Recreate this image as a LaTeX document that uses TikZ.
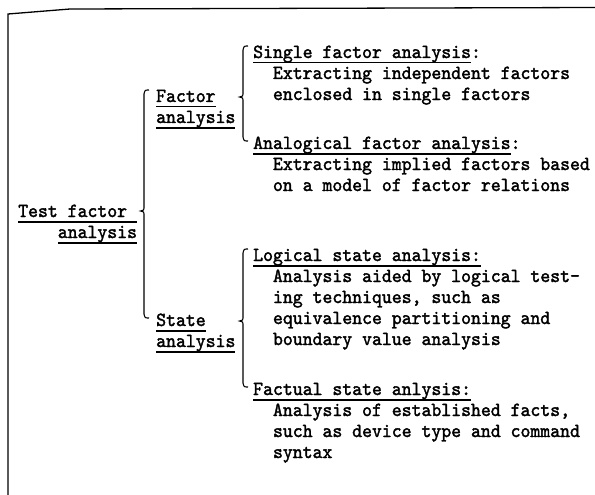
\documentclass[tikz,border=0pt]{standalone}
\usepackage{fontspec}
\setmonofont{lmmono10-regular.otf}[FakeBold=1.8,FakeStretch=0.943]
\usetikzlibrary{calc}
\newsavebox\ulbox
% underline at a fixed depth, below the descenders
\newcommand\ulx[1]{\sbox\ulbox{#1}\rlap{\rule[-5.5pt]{\wd\ulbox}{1.2pt}}\usebox\ulbox}
% curly bracket: top end, tip level, bottom end
\newcommand\curly[3]{\draw[brace] let \p1=#1, \p2=#2, \p3=#3 in
  (\x1+5pt,\y1) .. controls (\x1+1pt,\y1) .. (\x1,\y1-4pt)
  -- (\x1,\y2+3pt) .. controls (\x1,\y2+1pt) .. (\x1-3.5pt,\y2)
  .. controls (\x1,\y2-1pt) .. (\x1,\y2-3pt)
  -- (\x1,\y3+4pt) .. controls (\x1+1pt,\y3) .. (\x1+5pt,\y3);}
\begin{document}
\begin{tikzpicture}[x=1pt,y=-1pt,
  txt/.style={font=\ttfamily\fontsize{20}{21}\selectfont, inner sep=0pt, anchor=base west},
  brace/.style={line width=1.1pt},
  frame/.style={line width=1.3pt}]
\useasboundingbox (0,0) rectangle (595,495);

% frame (top and left edges)
\coordinate (fc) at (8,14);
\coordinate (ftr) at (595,7.5);
\coordinate (fbl) at (8,495);
\draw[frame] (ftr) -- (70,9) -- (fc) -- (fbl);

% root
\node[txt] (tf1) at (18,217) {\ulx{Test factor\ }};
\node[txt,anchor=base east] (tf2) at ([yshift=-21pt]tf1.base east) {\ulx{analysis}};

% second level
\node[txt] (fa1) at (156,102) {\ulx{Factor}};
\node[txt] (fa2) at (156,123) {\ulx{analysis}};
\node[txt] (sa1) at (156,326) {\ulx{State}};
\node[txt] (sa2) at (156,347) {\ulx{analysis}};

% leaves: factor analysis
\node[txt] (single) at (253,58) {\ulx{Single factor analysis}:};
\node[txt] (single1) at (272.8,79) {Extracting independent factors};
\node[txt] (single2) at (272.8,100) {enclosed in single factors};
\node[txt] (analog) at (253,149) {\ulx{Analogical factor analysis}:};
\node[txt] (analog1) at (272.8,170) {Extracting implied factors based};
\node[txt] (analog2) at (272.8,191) {on a model of factor relations};

% leaves: state analysis
\node[txt] (logic) at (253,261) {\ulx{Logical state analysis:}};
\node[txt] (logic1) at (272.8,282) {Analysis aided by logical test-};
\node[txt] (logic2) at (272.8,303) {ing techniques, such as};
\node[txt] (logic3) at (272.8,324) {equivalence partitioning and};
\node[txt] (logic4) at (272.8,345) {boundary value analysis};
\node[txt] (fact) at (253,395) {\ulx{Factual state anlysis:}};
\node[txt] (fact1) at (272.8,416) {Analysis of established facts,};
\node[txt] (fact2) at (272.8,437) {such as device type and command};
\node[txt] (fact3) at (272.8,458) {syntax};

% brackets
\curly{($(fa1.base west)+(-12,-12)$)}{($(tf1.base)+(0,-6)$)}{($(sa1.base)+(0,-8)$)}
\curly{($(single.base west)+(-10,-12)$)}{($(fa1.base)+(0,-5)$)}{($(analog.base)+(0,-8)$)}
\curly{($(logic.base west)+(-10,-12)$)}{($(sa1.base)+(0,-5)$)}{($(fact.base)+(0,-8)$)}
\end{tikzpicture}
\end{document}
